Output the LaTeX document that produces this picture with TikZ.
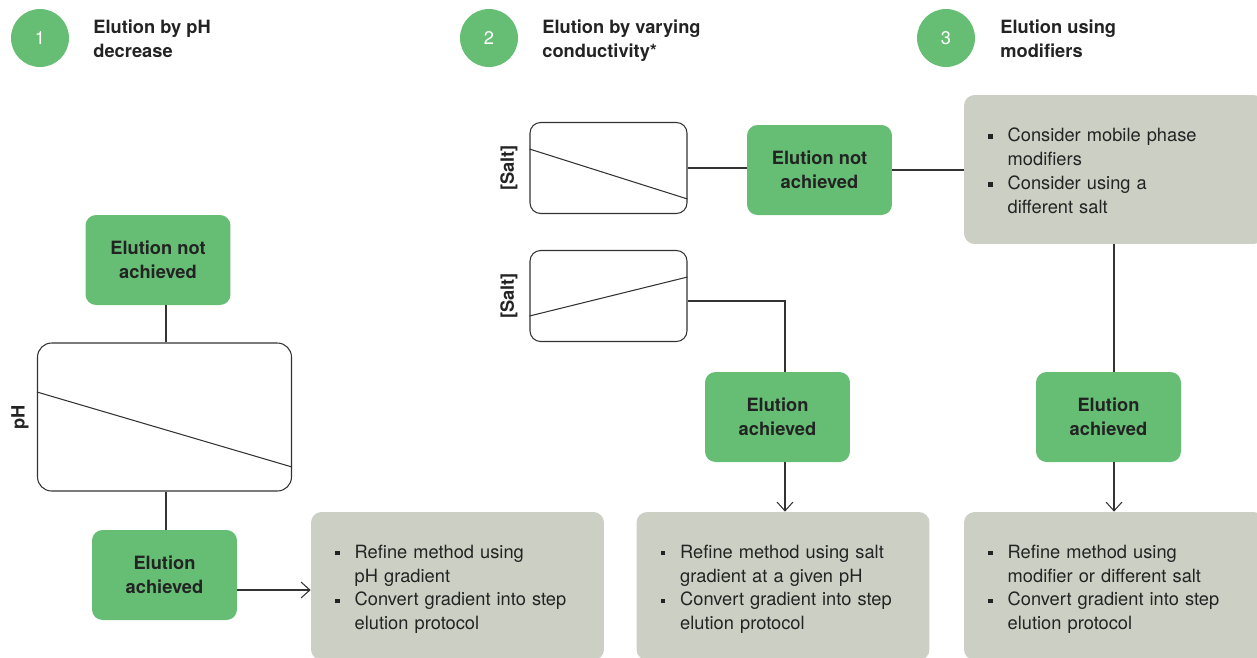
\documentclass[tikz,border=0pt]{standalone}
\usepackage{fontspec}
\setmainfont{TeX Gyre Heros}
\usetikzlibrary{arrows.meta}
\definecolor{boxgreen}{RGB}{101,190,116}
\definecolor{boxgrey}{RGB}{204,208,196}
\definecolor{ink}{RGB}{35,35,35}
\colorlet{wire}{black!80}
\newcommand{\bul}{\rule[1.5pt]{2.7pt}{2.7pt}}
\newcommand{\twopts}[4]{\raisebox{-1.8pt}[\height][\depth]{\begin{tabular}{@{}l@{\hspace{8.5pt}}l@{}}\bul&#1\\&#2\\\bul&#3\\&#4\end{tabular}}}

\begin{document}
\begin{tikzpicture}[x=0.02cm,y=-0.02cm,
    font=\fontsize{10.4}{13.6}\selectfont,
    numdot/.style={circle,fill=boxgreen,text=white,minimum size=1.16cm,inner sep=0pt},
    heading/.style={anchor=west,align=left,inner sep=0pt,text depth=0pt,text=ink,font=\fontsize{10.4}{13.6}\selectfont\bfseries},
    greenbox/.style={fill=boxgreen,rounded corners=6pt,minimum width=2.9cm,minimum height=1.8cm,
      align=center,text=ink,font=\fontsize{10.4}{13.6}\selectfont\bfseries},
    greybox/.style={fill=boxgrey,rounded corners=6pt,text width=4.9cm,inner xsep=0.48cm,
      minimum height=2.96cm,align=left,text=ink},
    plotbox/.style={draw=wire,line width=0.6pt,fill=white,minimum width=3.14cm,minimum height=1.82cm},
    axislabel/.style={rotate=90,text=ink,font=\fontsize{10.4}{13.6}\selectfont\bfseries},
    wire/.style={draw=wire,line width=0.6pt},
    arr/.style={wire,-{Straight Barb[length=5pt,width=9pt]}}]
  \useasboundingbox (0,0) rectangle (1257,657);
  \clip (0,0) rectangle (1257,657);

  % headings
  \node[numdot] (n1) at (40,38) {1};
  \node[numdot] (n2) at (489,38) {2};
  \node[numdot] (n3) at (946,38) {3};
  \node[heading] (h1) at (93,39) {Elution by pH\\decrease};
  \node[heading] (h2) at (542,39) {Elution by varying\\conductivity*};
  \node[heading] (h3) at (1000,39) {Elution using\\modifiers};

  % column 1
  \node[greenbox] (nach1) at (158,260) {Elution not\\achieved};
  \node[plotbox,rounded corners=8pt,minimum width=5.08cm,minimum height=2.96cm] (ph) at (164.5,417) {};
  \node[axislabel] (phlab) at (20,417) {pH};
  \node[greenbox] (ach1) at (164.5,575) {Elution\\achieved};
  \node[greybox] (ref1) at (457.5,586) {\twopts{Refine method using}{pH gradient}{Convert gradient into step}{elution protocol}};
  \draw[wire] ([yshift=0.5cm]ph.west) -- ([yshift=-1cm]ph.east);
  \draw[wire] ([xshift=0.16cm]nach1.south) -- ([xshift=0.16cm]nach1.south |- ph.north);
  \draw[wire] ([xshift=0.03cm]ph.south) -- ([xshift=0.03cm]ach1.north);
  \draw[arr] ([yshift=-0.3cm]ach1.east) -- ([yshift=-0.3cm]ach1.east -| ref1.west);

  % column 2
  \node[plotbox,rounded corners=6pt] (salt1) at (608.5,168) {};
  \node[plotbox,rounded corners=6pt] (salt2) at (608.5,296) {};
  \node[axislabel] (saltlab1) at (509,168) {[Salt]};
  \node[axislabel] (saltlab2) at (509,296) {[Salt]};
  \draw[wire] ([yshift=0.38cm]salt1.west) -- ([yshift=-0.62cm]salt1.east);
  \draw[wire] ([yshift=-0.4cm]salt2.west) -- ([yshift=0.38cm]salt2.east);
  \node[greenbox] (nach2) at (819.5,170) {Elution not\\achieved};
  \node[greenbox] (ach2) at (777.5,417) {Elution\\achieved};
  \node[greybox] (ref2) at (783,586) {\twopts{Refine method using salt}{gradient at a given pH}{Convert gradient into step}{elution protocol}};
  \draw[wire] (salt1.east) -- (salt1.east -| nach2.west);
  \draw[wire] ([yshift=-0.1cm]salt2.east) -| ([xshift=0.15cm]ach2.north);
  \draw[arr] ([xshift=0.15cm]ach2.south) -- ([xshift=0.15cm]ach2.south |- ref2.north);

  % column 3
  \node[greybox,text width=5.04cm,minimum height=2.98cm] (mod) at (1114,169.5) {\twopts{Consider mobile phase}{modifiers}{Consider using a}{different salt}};
  \node[greenbox] (ach3) at (1108.5,417) {Elution\\achieved};
  \node[greybox,text width=5.04cm] (ref3) at (1114,586) {\twopts{Refine method using}{modifier or different salt}{Convert gradient into step}{elution protocol}};
  \draw[wire] (nach2.east) -- (nach2.east -| mod.west);
  \draw[wire] ([xshift=0.11cm]ach3.north) -- ([xshift=0.11cm]ach3.north |- mod.south);
  \draw[arr] ([xshift=0.11cm]ach3.south) -- ([xshift=0.11cm]ach3.south |- ref3.north);
\end{tikzpicture}
\end{document}
